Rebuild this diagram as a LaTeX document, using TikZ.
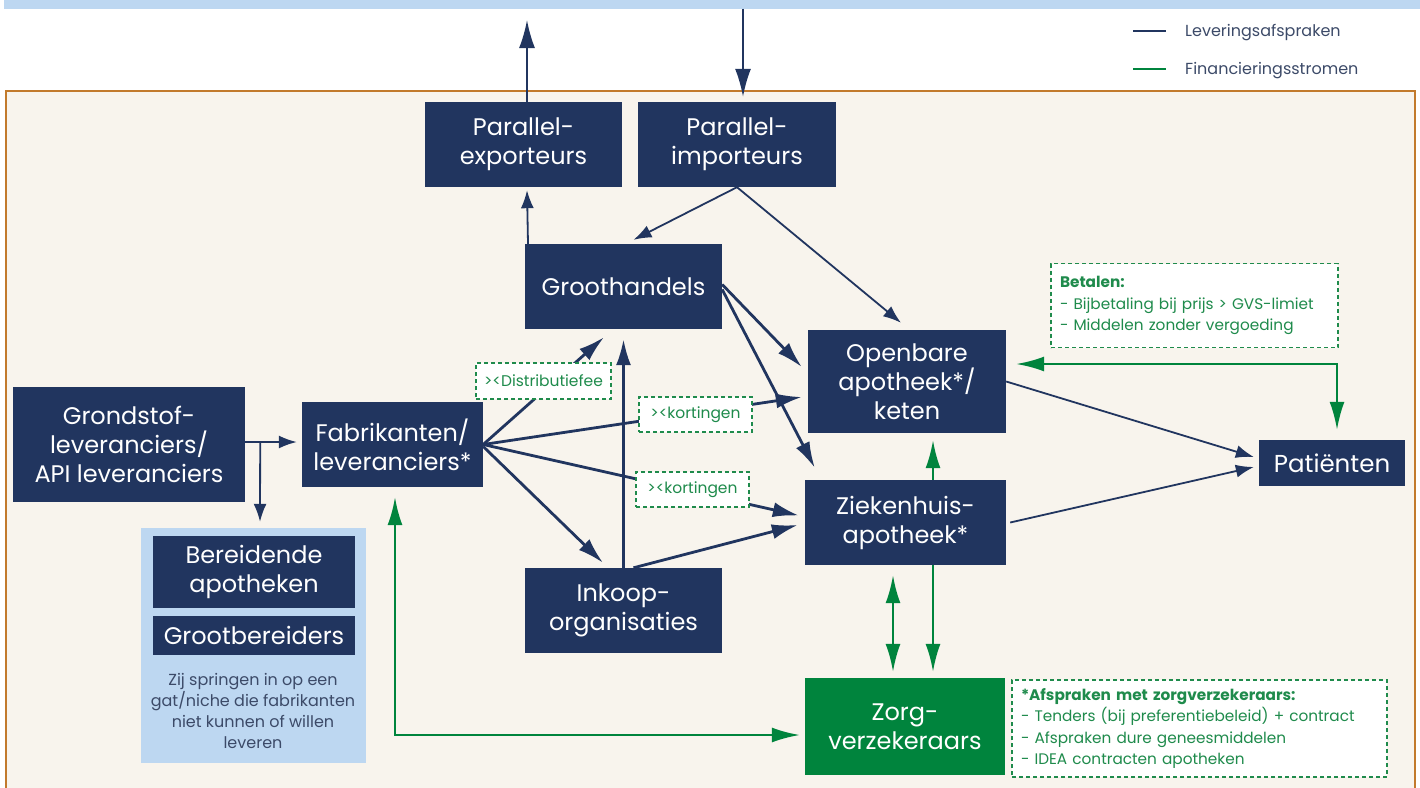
\documentclass[tikz,border=0pt]{standalone}
\usepackage{fontspec}
\setmainfont{Poppins}
\usetikzlibrary{arrows.meta,calc}
\definecolor{navy}{HTML}{21355F}
\definecolor{grn}{HTML}{00843D}
\definecolor{gtxt}{HTML}{1F8B4C}
\definecolor{bgc}{HTML}{F8F4ED}
\definecolor{org}{HTML}{C27A2C}
\definecolor{lblue}{HTML}{BDD7F1}
\definecolor{gtext}{HTML}{3C4A68}
\begin{document}
\begin{tikzpicture}[x=1pt,y=-1pt,
  box/.style={fill=navy,text=white,align=center,inner sep=0pt,font=\fontsize{24}{29}\selectfont},
  lab/.style={draw=gtxt,dash pattern=on 4pt off 3pt,line width=1.1pt,fill=white,text=gtxt,inner sep=0pt,font=\fontsize{15.5}{18}\selectfont},
  note/.style={draw=gtxt,dash pattern=on 4pt off 3pt,line width=1.1pt,fill=white,text=gtxt,inner ysep=0pt,inner xsep=9pt,align=left,font=\fontsize{15.3}{21.5}\selectfont},
  thk/.style={draw=navy,line width=2.8pt,-{Latex[length=26pt,width=15pt]}},
  thn/.style={draw=navy,line width=1.8pt,-{Latex[length=18pt,width=13pt]}},
  top/.style={draw=navy,line width=2pt,-{Latex[length=28pt,width=16pt]}},
  grnarr/.style={draw=grn,line width=2.4pt,-{Latex[length=28pt,width=15pt]}},
  grnbi/.style={draw=grn,line width=2.4pt,{Latex[length=28pt,width=15pt]}-{Latex[length=28pt,width=15pt]}}
]
\useasboundingbox (0,0) rectangle (1420,787);
% background
\path[fill=lblue] (4,0) rectangle (1420,8.5);
\path[fill=bgc,draw=org,line width=2pt] (6,91) rectangle (1415,800);

% legend
\draw[navy,line width=2.2pt] (1133,31) -- (1166,31);
\draw[grn,line width=2.2pt] (1133,69) -- (1166,69);
\node[anchor=base west,text=gtext,inner sep=0pt,font=\fontsize{16}{18}\selectfont] (leg1) at (1185,36) {Leveringsafspraken};
\node[anchor=base west,text=gtext,inner sep=0pt,font=\fontsize{16}{18}\selectfont] (leg2) at (1185,74) {Financieringsstromen};

% nodes
\node[box,minimum width=197,minimum height=85] (pexp) at (523.5,144.5) {Parallel-\\exporteurs};
\node[box,minimum width=198,minimum height=85] (pimp) at (737,144.5) {Parallel-\\importeurs};
\node[box,minimum width=197,minimum height=85] (groot) at (623.5,286.5) {Groothandels};
\node[box,minimum width=198,minimum height=103] (openb) at (907,381.5) {Openbare\\apotheek*/\\keten};
\node[box,minimum width=201,minimum height=85] (ziek) at (905.5,522.5) {Ziekenhuis-\\apotheek*};
\node[box,minimum width=146,minimum height=46,font=\fontsize{24.5}{26}\selectfont] (pat) at (1332,463) {Patiënten};
\node[box,minimum width=232,minimum height=115] (grond) at (129,444.5) {Grondstof-\\leveranciers/\\API leveranciers};
\node[box,minimum width=181,minimum height=85] (fab) at (392.5,444.5) {Fabrikanten/\\leveranciers*};
\node[box,minimum width=197,minimum height=85] (inkoop) at (623.5,610.5) {Inkoop-\\organisaties};
\node[box,fill=grn,minimum width=200,minimum height=97] (zorg) at (905,726.5) {Zorg-\\verzekeraars};

% panel
\node[fill=lblue,minimum width=225,minimum height=235,inner sep=0pt] (panel) at (253.5,645.5) {};
\node[box,minimum width=202,minimum height=72] (bereid) at (254,572) {Bereidende\\apotheken};
\node[box,minimum width=202,minimum height=39] (grootb) at (254,635.5) {Grootbereiders};
\node[text=gtext,align=center,inner sep=0pt,font=\fontsize{16}{21}\selectfont] (zij) at (253,711) {Zij springen in op een\\gat/niche die fabrikanten\\niet kunnen of willen\\leveren};

% top arrows
\coordinate (exptop) at (527,20);
\coordinate (impsrc) at (743,8.5);
\draw[top] ($(pexp.north)+(3.5,0)$) -- (exptop);
\draw[top] (impsrc) -- ($(pimp.north)+(6,-5)$);

% navy connectors
\draw[thn] ($(groot.north)+(-95.5,0)$) -- ($(pexp.south)+(3.5,3)$);
\draw[thn] (pimp.south) -- ($(groot.north)+(10,-4)$);
\draw[thn] (pimp.south) -- ($(openb.north)+(-6,-7)$);
\draw[thk] ($(groot.east)+(0,-2)$) -- ($(openb.west)+(-6,-14.5)$);
\draw[thk] ($(groot.east)+(0,3)$) -- ($(ziek.north west)+(10,-12)$);
\draw[thk] (fab.east) -- ($(groot.south)+(-19.5,8)$);
\draw[thk] (fab.east) -- ($(openb.west)+(-6,15.5)$);
\draw[thk] (fab.east) -- ($(ziek.west)+(-6,-7)$);
\draw[thk] ($(fab.east)+(0,2)$) -- ($(inkoop.north)+(-20.5,-5)$);
\draw[thk] (inkoop.north) -- ($(groot.south)+(0,10)$);
\draw[thk] ($(inkoop.north)+(10,0)$) -- ($(ziek.west)+(-7,2.5)$);
\draw[thn] (openb.east) -- ($(pat.west)+(-5,-6)$);
\draw[thn] ($(ziek.east)+(4,0)$) -- ($(pat.west)+(-5,4)$);
\draw[thn] ($(grond.east)+(0,-2.5)$) -- ($(fab.west)+(-5,-2.5)$);
\draw[thn] ($(grond.east)+(15,-2.5)$) -- ($(panel.north)+(6.5,-6)$);

% labels on connectors
\node[lab,minimum width=135,minimum height=36] (ldist) at (543.5,381) {><Distributiefee};
\node[lab,minimum width=113,minimum height=35] (lkort1) at (695.5,414.5) {><kortingen};
\node[lab,minimum width=113,minimum height=35] (lkort2) at (692.5,489.5) {><kortingen};

% green connectors
\draw[grnbi] ($(openb.east)+(10,-17.5)$) -| ($(pat.north)+(5,-10)$);
\draw[grnarr] (ziek.north -| 933,0) -- ($(openb.south -| 933,0)+(0,7)$);
\draw[grnbi] ($(ziek.south -| 893,0)+(0,10)$) -- ($(zorg.north -| 893,0)+(0,-6)$);
\draw[grnarr] (ziek.south -| 933,0) -- ($(zorg.north -| 933,0)+(0,-6)$);
\draw[grnbi] ($(fab.south)+(2.5,10)$) |- ($(zorg.west)+(-5,8.5)$);

% notes
\node[note,text width=269pt,minimum height=84] (betalen) at (1194.5,305.5) {\textbf{Betalen:}\\- Bijbetaling bij prijs > GVS-limiet\\- Middelen zonder vergoeding};
\node[note,text width=357pt,minimum height=97] (afspr) at (1199.5,728.5) {\textbf{*Afspraken met zorgverzekeraars:}\\- Tenders (bij preferentiebeleid) + contract\\- Afspraken dure geneesmiddelen\\- IDEA contracten apotheken};
\end{tikzpicture}
\end{document}
